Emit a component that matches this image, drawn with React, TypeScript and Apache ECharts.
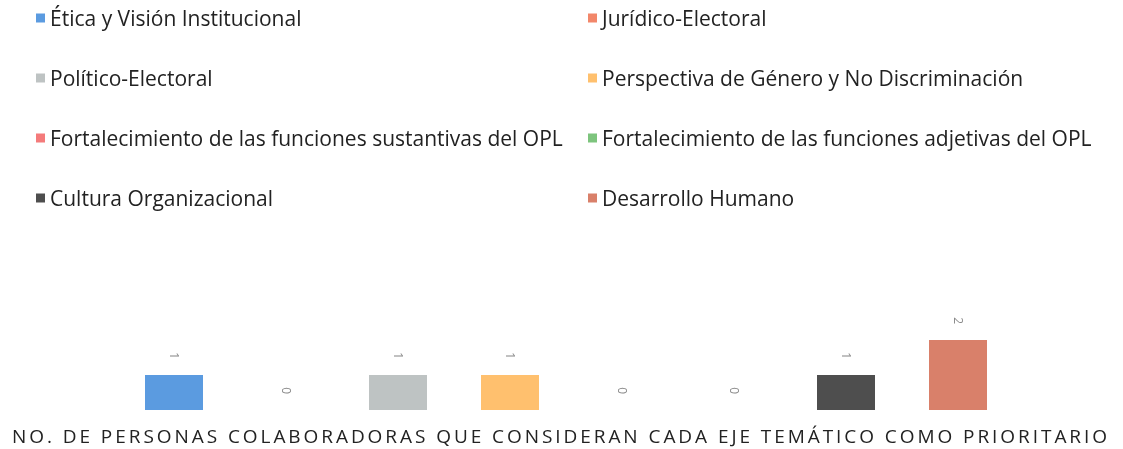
import React, { useEffect, useRef } from "react";
import * as echarts from "echarts";

const categories = [
  "Ética y Visión Institucional",
  "Jurídico-Electoral",
  "Político-Electoral",
  "Perspectiva de Género y No Discriminación",
  "Fortalecimiento de las funciones sustantivas del OPL",
  "Fortalecimiento de las funciones adjetivas del OPL",
  "Cultura Organizacional",
  "Desarrollo Humano",
];
const values = [1, 0, 1, 1, 0, 0, 1, 2];
const colors = ["#5B9BE0", "#F2876A", "#BEC3C3", "#FFC06E", "#F47B7B", "#7DC47D", "#4E4E4E", "#D9806A"];
const legendLeft = [0, 2, 4, 6];
const legendRight = [1, 3, 5, 7];
const title = "NO. DE PERSONAS COLABORADORAS QUE CONSIDERAN CADA EJE TEMÁTICO COMO PRIORITARIO";

const FONT = "Open Sans";

export default function App() {
  const ref = useRef<HTMLDivElement>(null);
  useEffect(() => {
    document.body.style.margin = "0";
    const chart = echarts.init(ref.current!, null, { renderer: "svg" });
    const series = categories.map((name, i) => ({
      name,
      type: "bar",
      stack: "all",
      barWidth: 58,
      itemStyle: { color: colors[i] },
      label: {
        show: true,
        position: "top",
        distance: 16,
        rotate: -90,
        align: "right",
        verticalAlign: "middle",
        color: "#8a8a8a",
        fontSize: 12,
        fontFamily: FONT,
      },
      data: values.map((v, j) => (j === i ? v : null)),
    }));
    const legendCommon = {
      orient: "vertical",
      top: 1,
      icon: "rect",
      itemWidth: 9,
      itemHeight: 9,
      itemGap: 36,
      textStyle: { fontFamily: FONT, fontSize: 21, color: "#222", lineHeight: 24 },
    };
    chart.setOption({
      animation: false,
      title: {
        text: title,
        left: 12,
        bottom: 3,
        padding: 0,
        textStyle: { fontFamily: FONT, fontSize: 19, fontWeight: "normal", color: "#222", lineHeight: 20 },
      },
      legend: [
        { ...legendCommon, left: 31, data: legendLeft.map((i) => categories[i]) },
        { ...legendCommon, left: 583, data: legendRight.map((i) => categories[i]) },
      ],
      grid: { left: 118, right: 109, top: 340, bottom: 39 },
      xAxis: {
        type: "category",
        data: categories,
        axisLine: { show: false },
        axisTick: { show: false },
        axisLabel: { show: false },
      },
      yAxis: {
        type: "value",
        min: 0,
        max: 2,
        show: false,
        splitLine: { show: false },
      },
      series,
    });
    // widen the title's letter spacing to match the reference's spaced caps
    const texts = ref.current!.querySelectorAll("text");
    texts.forEach((t: any) => {
      if (t.textContent === title && t.getComputedTextLength) {
        const len = t.getComputedTextLength();
        const target = 1098;
        const sp = (target - len) / title.length;
        if (sp > 0) t.setAttribute("letter-spacing", String(sp));
      }
    });
    return () => chart.dispose();
  }, []);
  return <div ref={ref} style={{ position: "fixed", left: 0, top: 0, width: 1123, height: 449 }} />;
}
